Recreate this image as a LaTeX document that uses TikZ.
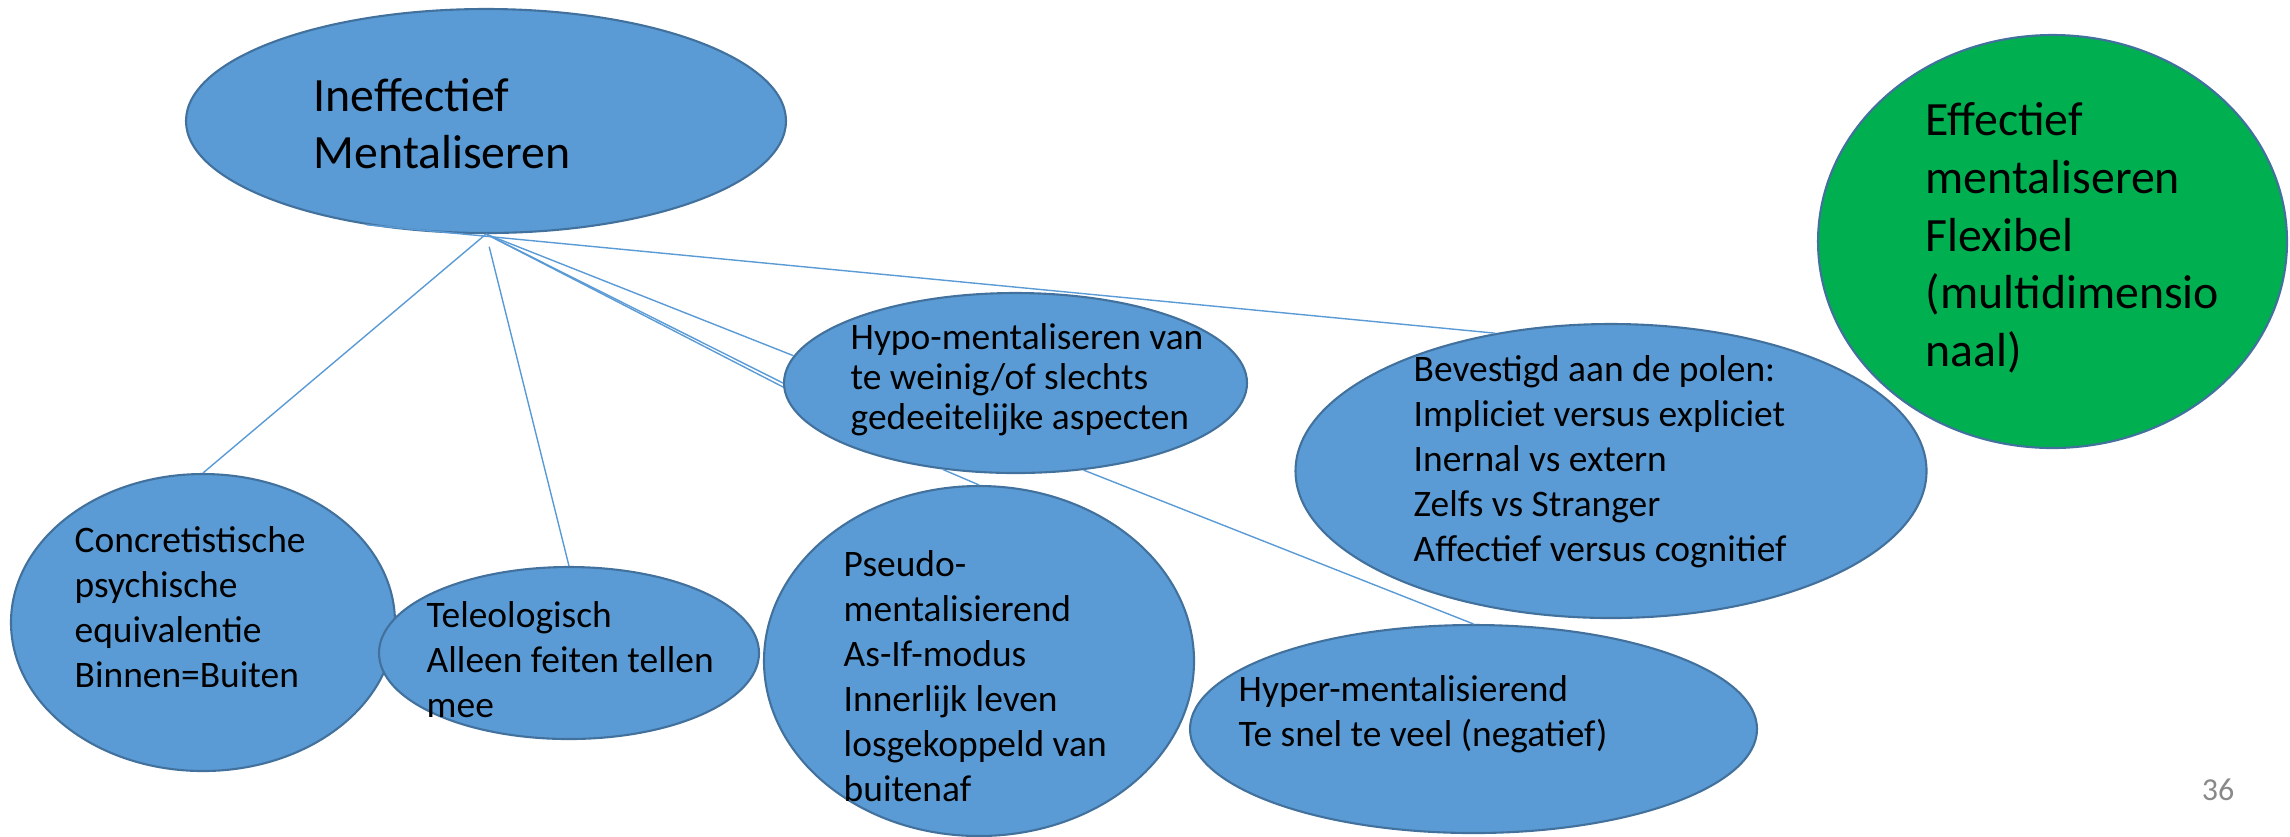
\documentclass[tikz,border=0pt]{standalone}
\usepackage{fontspec}
\setmainfont{Carlito}
\usetikzlibrary{shapes.geometric}
\definecolor{mBlue}{HTML}{5B9BD5}
\definecolor{mEdge}{HTML}{41719C}
\definecolor{mGreen}{HTML}{00B050}
\definecolor{mGrey}{HTML}{898989}

\begin{document}
\begin{tikzpicture}[
    bubble/.style={ellipse,draw=mEdge,line width=0.6pt,fill=mBlue,inner sep=0pt},
    link/.style={draw=mBlue,line width=0.4pt},
    bigtxt/.style={anchor=west,align=left,inner sep=0pt,font=\fontsize{13.6}{16.2}\selectfont},
    smalltxt/.style={anchor=west,align=left,inner sep=0pt,font=\fontsize{10.65}{12.8}\selectfont}]
  \useasboundingbox (0,0) rectangle (22.9,-8.36);

  % Top row: ineffective (blue) and effective (green)
  \node[bubble,minimum width=6cm,minimum height=2.24cm] (ineff) at (4.86,-1.21) {};
  \node[bigtxt] (ineff-txt) at (3.13,-1.235) {Ineffectief\\Mentaliseren};
  \node[bubble,fill=mGreen,minimum width=4.69cm,minimum height=4.13cm] (effect) at (20.525,-2.415) {};
  \node[bigtxt,font=\fontsize{13.6}{16.4}\selectfont] (effect-txt) at (19.25,-2.38)
        {Effectief\\mentaliseren\\Flexibel\\(multidimensio\\naal)};

  % Middle row
  \node[bubble,minimum width=4.63cm,minimum height=1.80cm] (hypo) at (10.155,-3.83) {};
  \node[smalltxt,font=\fontsize{10.65}{11.4}\selectfont] (hypo-txt) at (8.50,-3.80)
        {Hypo-mentaliseren van\\te weinig/of slechts\\gedeeitelijke aspecten};
  \node[bubble,minimum width=6.31cm,minimum height=2.94cm] (bevest) at (16.11,-4.71) {};
  \node[smalltxt] (bevest-txt) at (14.13,-4.62)
        {Bevestigd aan de polen:\\Impliciet versus expliciet\\Inernal vs extern\\Zelfs vs Stranger\\Affectief versus cognitief};

  % Bottom row (left to right)
  \node[bubble,minimum width=3.84cm,minimum height=2.97cm] (concr) at (2.03,-6.225) {};
  \node[smalltxt] (concr-txt) at (0.74,-6.07)
        {Concretistische\\psychische\\equivalentie\\Binnen=Buiten};
  \node[bubble,minimum width=3.80cm,minimum height=1.72cm] (teleo) at (5.69,-6.53) {};
  \node[smalltxt] (teleo-txt) at (4.26,-6.60) {Teleologisch\\Alleen feiten tellen\\mee};
  \node[bubble,minimum width=4.30cm,minimum height=3.50cm] (pseudo) at (9.79,-6.61) {};
  \node[smalltxt] (pseudo-txt) at (8.43,-6.76)
        {Pseudo-\\mentalisierend\\As-If-modus\\Innerlijk leven\\losgekoppeld van\\buitenaf};
  \node[bubble,minimum width=5.67cm,minimum height=2.08cm] (hyper) at (14.735,-7.29) {};
  \node[smalltxt] (hyper-txt) at (12.38,-7.145) {Hyper-mentalisierend\\Te snel te veel (negatief)};

  % Slide number
  \node[text=mGrey,font=\fontsize{9.1}{11}\selectfont] (pagenr) at (22.18,-7.90) {36};

  % Connectors
  \draw[link] (ineff.south) -- (concr.north);
  \draw[link,shorten <=0.13cm] (ineff.south) -- (teleo.north);
  \draw[link] (ineff.south) -- (hypo.173);
  \draw[link] (ineff.south) -- (hypo.west);
  \draw[link] (ineff.south) -- (hypo.181);
  \draw[link] (ineff.221) -- (bevest.130);
  \draw[link] (hypo.230) -- (pseudo.north);
  \draw[link] (hypo.308) -- (hyper.north);
\end{tikzpicture}
\end{document}
